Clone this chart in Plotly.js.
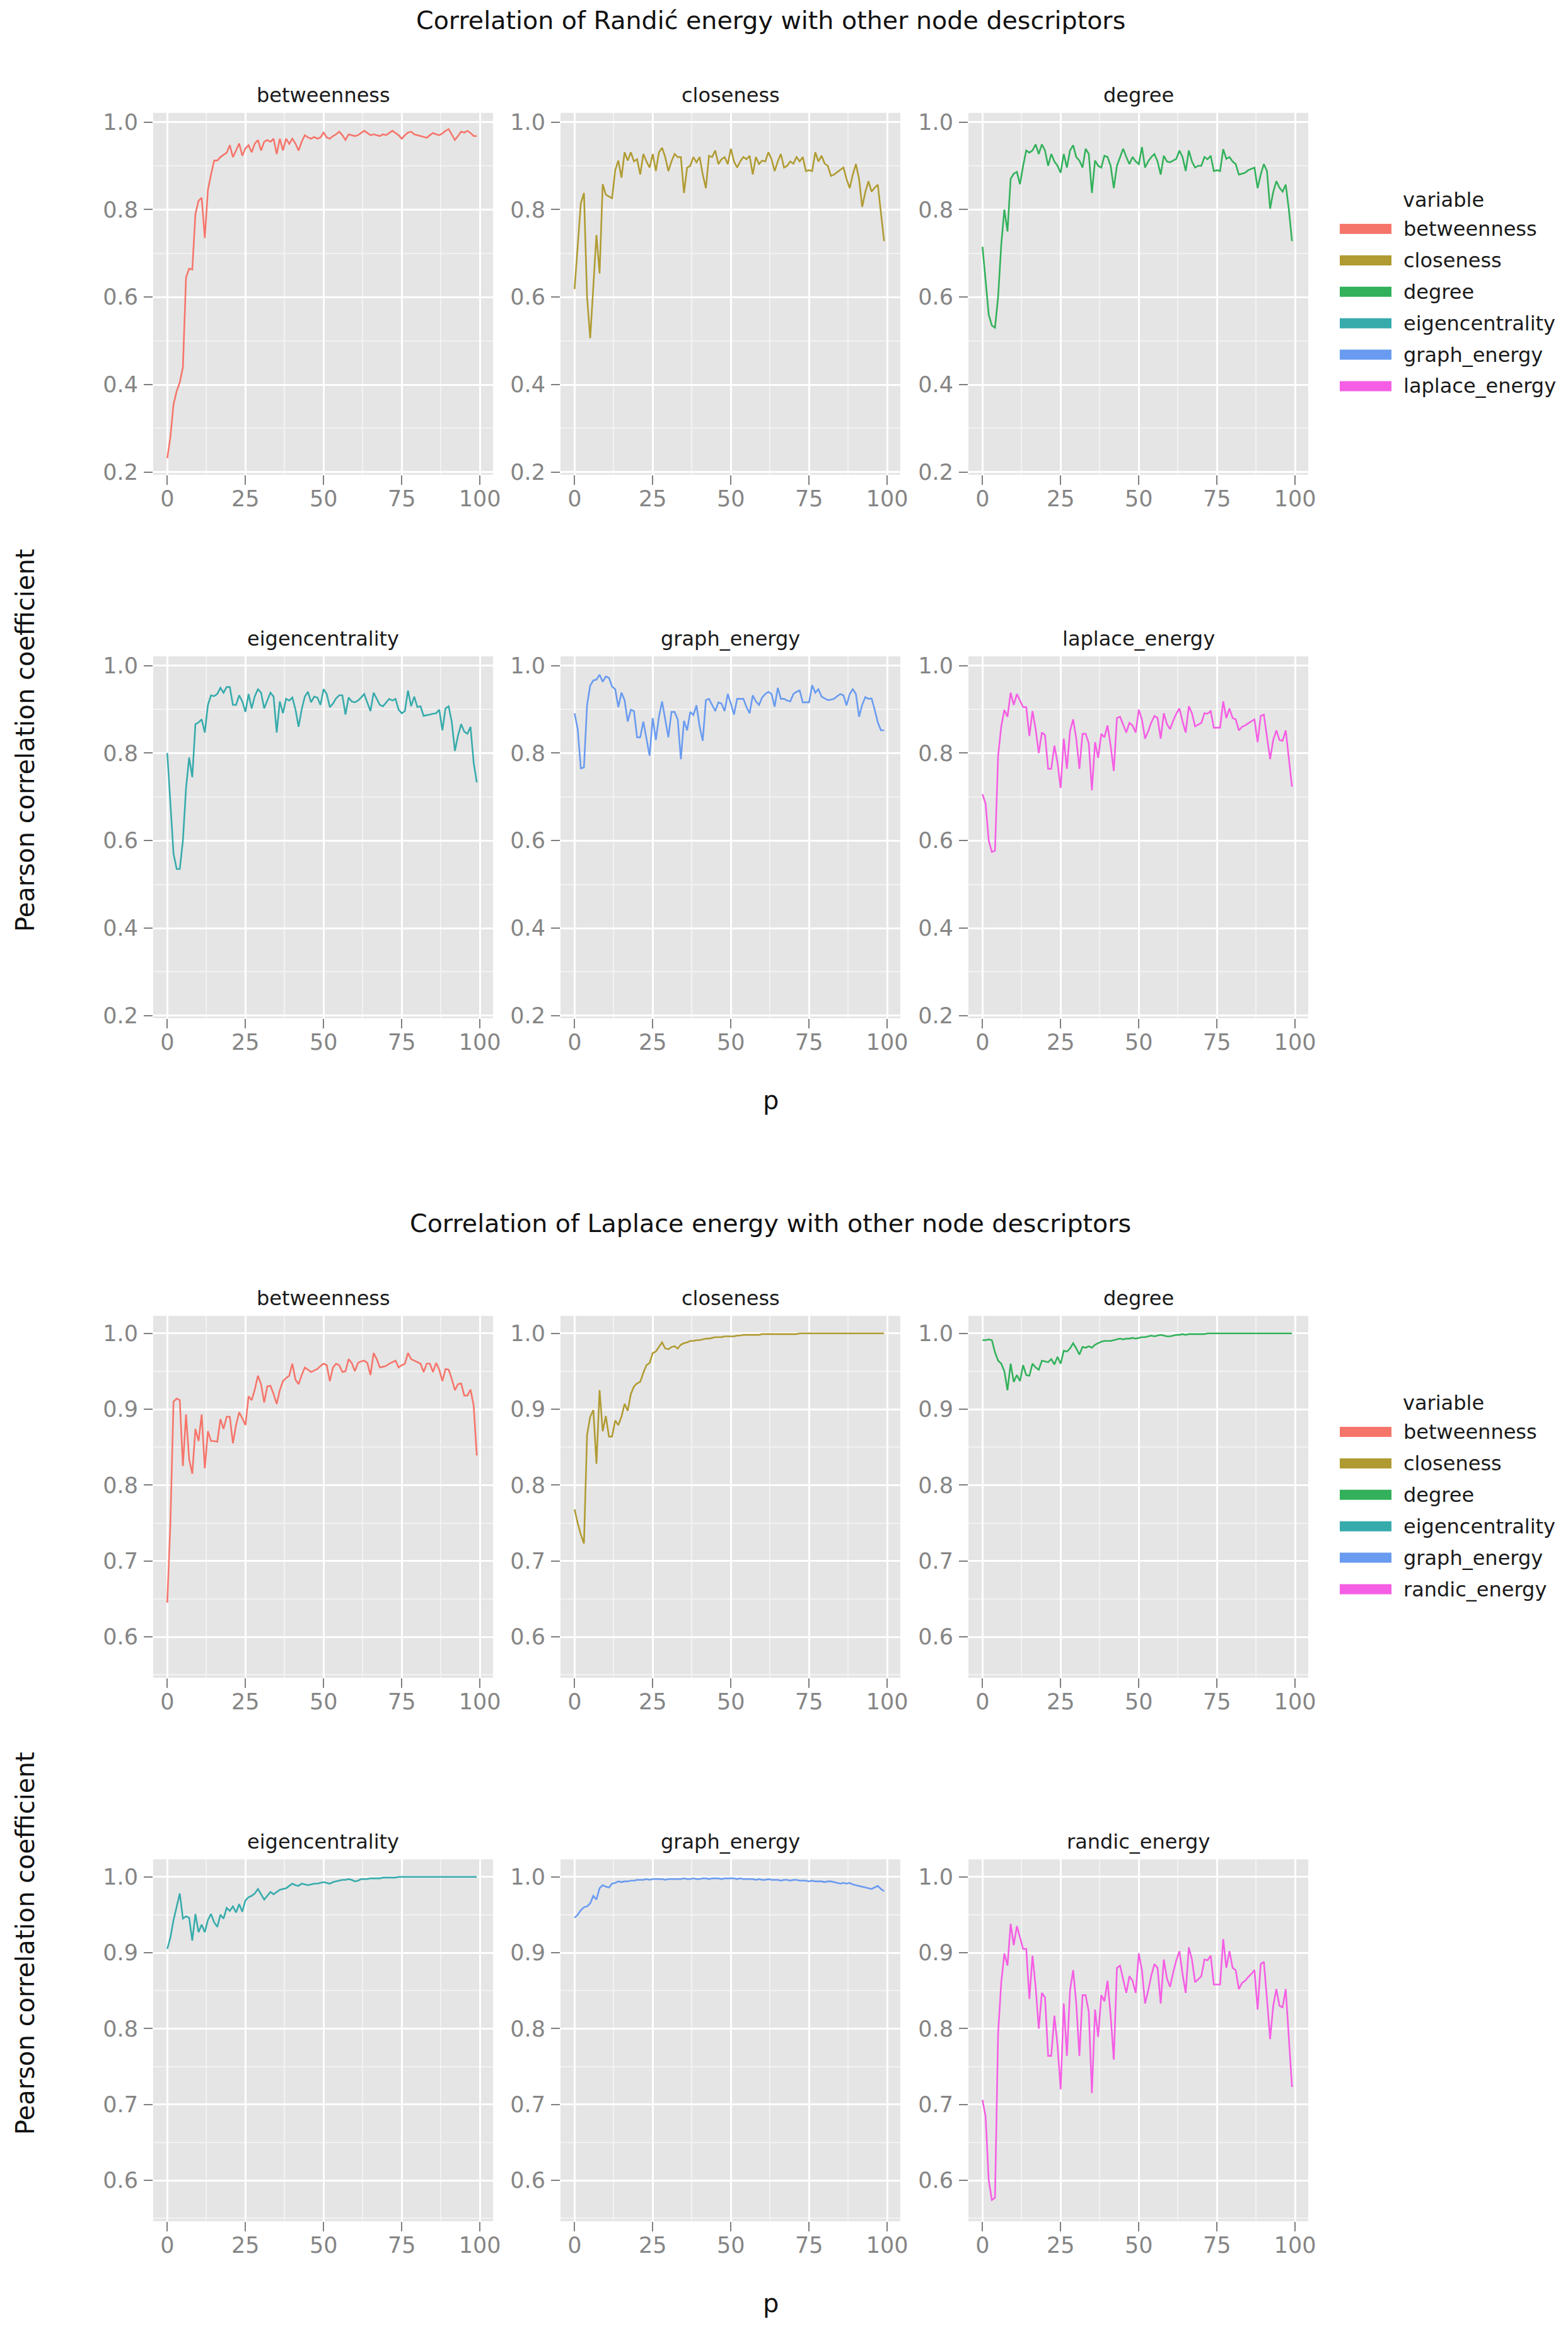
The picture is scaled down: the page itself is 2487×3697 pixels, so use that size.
<!DOCTYPE html>
<html><head><meta charset="utf-8">
<script src="https://cdn.plot.ly/plotly-3.0.1.min.js"></script>
<style>html,body{margin:0;padding:0;background:#fff}</style>
</head><body><div id="chart" style="width:2487px;height:3697px"></div>
<script>
// ---------------- DATA ----------------
const p = [0,1,2,3,4,5,6,7,8,9,10,11,12,13,14,15,16,17,18,19,20,21,22,23,24,25,26,27,28,29,
30,31,32,33,34,35,36,37,38,39,40,41,42,43,44,45,46,47,48,49,50,51,52,53,54,55,56,57,58,59,
60,61,62,63,64,65,66,67,68,69,70,71,72,73,74,75,76,77,78,79,80,81,82,83,84,85,86,87,88,89,
90,91,92,93,94,95,96,97,98,99];

const figureTitles = ["Correlation of Randić energy with other node descriptors",
                      "Correlation of Laplace energy with other node descriptors"];
const randicPanels = ["betweenness","closeness","degree","eigencentrality","graph_energy","laplace_energy"];
const laplacePanels = ["betweenness","closeness","degree","eigencentrality","graph_energy","randic_energy"];
const seriesColors = ["#F6756B","#B09B32","#32B15A","#37ABAC","#699BF0","#F55EE4"];
const yTicksTop = [0.2,0.4,0.6,0.8,1.0];
const yTicksBottom = [0.6,0.7,0.8,0.9,1.0];
const xTicks = [0,25,50,75,100];

const randic_betweenness = [0.232,0.28,0.355,0.385,0.405,0.44,0.645,0.665,0.663,0.79,
0.82,0.827,0.735,0.845,0.88,0.912,0.912,0.92,0.925,0.93,
0.947,0.92,0.935,0.951,0.923,0.94,0.947,0.931,0.951,0.959,
0.935,0.955,0.959,0.955,0.962,0.927,0.962,0.935,0.962,0.95,
0.962,0.951,0.935,0.955,0.97,0.965,0.962,0.966,0.962,0.965,
0.976,0.965,0.962,0.968,0.972,0.978,0.97,0.959,0.972,0.97,
0.968,0.97,0.975,0.98,0.975,0.97,0.972,0.97,0.968,0.972,
0.97,0.975,0.98,0.975,0.97,0.962,0.97,0.976,0.978,0.972,
0.97,0.968,0.966,0.964,0.97,0.975,0.972,0.97,0.974,0.98,
0.984,0.972,0.959,0.968,0.978,0.976,0.98,0.975,0.968,0.968];

const randic_closeness = [0.618,0.72,0.814,0.838,0.60,0.506,0.63,0.742,0.654,0.858,
0.834,0.83,0.826,0.89,0.912,0.873,0.931,0.912,0.931,0.91,
0.915,0.88,0.927,0.91,0.896,0.927,0.888,0.931,0.941,0.92,
0.888,0.91,0.927,0.92,0.92,0.838,0.896,0.90,0.92,0.908,
0.92,0.88,0.849,0.923,0.92,0.935,0.904,0.915,0.92,0.904,
0.939,0.91,0.896,0.91,0.92,0.915,0.923,0.88,0.92,0.904,
0.912,0.91,0.931,0.915,0.888,0.91,0.927,0.896,0.90,0.91,
0.905,0.92,0.91,0.92,0.888,0.89,0.888,0.931,0.91,0.923,
0.905,0.90,0.877,0.88,0.885,0.89,0.896,0.87,0.849,0.88,
0.904,0.87,0.806,0.84,0.865,0.841,0.85,0.857,0.79,0.728];

const randic_degree = [0.715,0.64,0.56,0.535,0.53,0.60,0.72,0.80,0.75,0.87,
0.882,0.886,0.858,0.90,0.935,0.93,0.935,0.949,0.927,0.949,
0.935,0.90,0.927,0.91,0.90,0.884,0.927,0.896,0.935,0.947,
0.92,0.912,0.896,0.939,0.927,0.838,0.912,0.90,0.896,0.923,
0.92,0.90,0.849,0.90,0.92,0.939,0.92,0.904,0.92,0.91,
0.904,0.943,0.896,0.91,0.92,0.927,0.91,0.88,0.923,0.91,
0.908,0.912,0.916,0.935,0.92,0.888,0.935,0.91,0.896,0.90,
0.90,0.92,0.915,0.923,0.888,0.89,0.888,0.938,0.916,0.92,
0.91,0.904,0.88,0.882,0.884,0.89,0.893,0.896,0.849,0.88,
0.904,0.888,0.802,0.84,0.865,0.85,0.841,0.857,0.80,0.728];

const randic_eigencentrality = [0.80,0.68,0.57,0.535,0.535,0.60,0.72,0.79,0.745,0.866,
0.87,0.877,0.847,0.91,0.932,0.93,0.935,0.949,0.938,0.951,
0.951,0.91,0.91,0.932,0.918,0.894,0.935,0.902,0.93,0.946,
0.938,0.902,0.92,0.938,0.929,0.847,0.918,0.891,0.924,0.92,
0.927,0.90,0.86,0.90,0.929,0.94,0.916,0.929,0.927,0.91,
0.946,0.935,0.905,0.913,0.925,0.932,0.932,0.888,0.927,0.918,
0.916,0.92,0.927,0.935,0.915,0.896,0.938,0.925,0.91,0.907,
0.916,0.924,0.92,0.924,0.899,0.891,0.896,0.943,0.907,0.929,
0.905,0.907,0.885,0.886,0.888,0.89,0.891,0.899,0.852,0.902,
0.907,0.871,0.805,0.84,0.866,0.849,0.844,0.86,0.778,0.733];

const randic_graph_energy = [0.891,0.855,0.765,0.767,0.91,0.954,0.966,0.968,0.979,0.963,
0.975,0.972,0.952,0.946,0.905,0.938,0.921,0.872,0.899,0.896,
0.836,0.836,0.872,0.833,0.794,0.88,0.83,0.883,0.918,0.877,
0.836,0.894,0.894,0.877,0.786,0.874,0.852,0.894,0.887,0.909,
0.861,0.828,0.921,0.924,0.91,0.896,0.916,0.913,0.896,0.935,
0.913,0.888,0.924,0.924,0.924,0.905,0.891,0.932,0.918,0.91,
0.927,0.935,0.94,0.935,0.906,0.949,0.924,0.924,0.92,0.918,
0.935,0.94,0.943,0.916,0.916,0.916,0.955,0.938,0.946,0.929,
0.925,0.921,0.922,0.924,0.93,0.935,0.932,0.909,0.935,0.946,
0.935,0.883,0.91,0.928,0.924,0.925,0.899,0.87,0.852,0.852];

const randic_laplace_energy = [0.706,0.684,0.60,0.574,0.577,0.794,0.861,0.899,0.883,0.938,
0.91,0.935,0.92,0.905,0.905,0.839,0.896,0.855,0.80,0.847,
0.841,0.764,0.764,0.817,0.778,0.72,0.833,0.764,0.85,0.877,
0.833,0.764,0.844,0.844,0.822,0.715,0.825,0.789,0.844,0.836,
0.863,0.817,0.759,0.88,0.883,0.865,0.847,0.869,0.863,0.847,
0.899,0.877,0.833,0.85,0.87,0.885,0.88,0.833,0.891,0.866,
0.855,0.874,0.89,0.902,0.872,0.847,0.907,0.891,0.861,0.865,
0.869,0.891,0.89,0.896,0.858,0.858,0.858,0.918,0.88,0.902,
0.88,0.877,0.852,0.86,0.863,0.868,0.872,0.877,0.825,0.885,
0.888,0.839,0.786,0.83,0.852,0.83,0.828,0.852,0.789,0.723];

const laplace_betweenness = [0.645,0.75,0.91,0.914,0.912,0.825,0.893,0.834,0.815,0.874,
0.858,0.893,0.822,0.871,0.858,0.858,0.857,0.887,0.874,0.89,
0.89,0.855,0.879,0.896,0.888,0.879,0.917,0.912,0.926,0.944,
0.933,0.909,0.93,0.931,0.92,0.907,0.925,0.937,0.941,0.944,
0.96,0.939,0.933,0.945,0.955,0.952,0.949,0.951,0.953,0.957,
0.96,0.958,0.937,0.955,0.96,0.958,0.949,0.95,0.966,0.961,
0.95,0.961,0.963,0.964,0.961,0.945,0.974,0.966,0.955,0.956,
0.957,0.96,0.962,0.964,0.955,0.958,0.96,0.974,0.966,0.964,
0.962,0.96,0.949,0.96,0.96,0.949,0.961,0.952,0.937,0.953,
0.952,0.94,0.925,0.933,0.934,0.918,0.918,0.926,0.905,0.839];

const laplace_closeness = [0.768,0.75,0.735,0.723,0.866,0.89,0.899,0.828,0.925,0.871,
0.891,0.864,0.864,0.885,0.879,0.89,0.907,0.898,0.92,0.93,
0.934,0.936,0.948,0.958,0.961,0.974,0.976,0.982,0.988,0.98,
0.979,0.982,0.983,0.98,0.985,0.987,0.988,0.99,0.99,0.991,
0.991,0.992,0.993,0.993,0.994,0.995,0.995,0.995,0.996,0.996,
0.996,0.996,0.997,0.997,0.998,0.998,0.998,0.998,0.998,0.998,
0.999,0.999,0.999,0.999,0.999,0.999,0.999,0.999,0.999,0.999,
0.999,0.999,1.0,1.0,1.0,1.0,1.0,1.0,1.0,1.0,
1.0,1.0,1.0,1.0,1.0,1.0,1.0,1.0,1.0,1.0,
1.0,1.0,1.0,1.0,1.0,1.0,1.0,1.0,1.0,1.0];

const laplace_degree = [0.991,0.991,0.992,0.991,0.975,0.964,0.96,0.95,0.925,0.96,
0.936,0.945,0.937,0.958,0.945,0.944,0.96,0.955,0.952,0.964,
0.963,0.962,0.966,0.959,0.969,0.96,0.977,0.976,0.98,0.987,
0.98,0.972,0.982,0.981,0.983,0.981,0.985,0.987,0.989,0.99,
0.99,0.99,0.991,0.992,0.993,0.992,0.993,0.993,0.994,0.993,
0.994,0.995,0.995,0.996,0.997,0.996,0.997,0.998,0.997,0.996,
0.996,0.997,0.998,0.998,0.999,0.998,0.999,0.999,0.999,0.999,
0.999,0.999,1.0,1.0,1.0,1.0,1.0,1.0,1.0,1.0,
1.0,1.0,1.0,1.0,1.0,1.0,1.0,1.0,1.0,1.0,
1.0,1.0,1.0,1.0,1.0,1.0,1.0,1.0,1.0,1.0];

const laplace_eigencentrality = [0.905,0.92,0.943,0.96,0.978,0.945,0.948,0.946,0.916,0.951,
0.927,0.937,0.927,0.943,0.951,0.94,0.934,0.95,0.945,0.959,
0.955,0.961,0.953,0.964,0.954,0.969,0.973,0.975,0.978,0.984,
0.977,0.97,0.975,0.98,0.977,0.98,0.983,0.984,0.985,0.988,
0.991,0.989,0.988,0.991,0.99,0.989,0.99,0.991,0.991,0.992,
0.993,0.992,0.991,0.993,0.994,0.995,0.996,0.996,0.997,0.996,
0.994,0.995,0.997,0.997,0.997,0.998,0.998,0.998,0.998,0.999,
0.999,0.999,0.999,0.999,1.0,1.0,1.0,1.0,1.0,1.0,
1.0,1.0,1.0,1.0,1.0,1.0,1.0,1.0,1.0,1.0,
1.0,1.0,1.0,1.0,1.0,1.0,1.0,1.0,1.0,1.0];

const laplace_graph_energy = [0.946,0.95,0.956,0.96,0.961,0.965,0.975,0.97,0.985,0.989,
0.987,0.986,0.991,0.992,0.994,0.993,0.994,0.994,0.995,0.995,
0.996,0.996,0.996,0.997,0.996,0.997,0.997,0.997,0.997,0.996,
0.997,0.997,0.997,0.997,0.997,0.998,0.997,0.997,0.998,0.997,
0.997,0.998,0.998,0.997,0.998,0.998,0.998,0.997,0.998,0.998,
0.998,0.998,0.997,0.998,0.997,0.997,0.997,0.997,0.996,0.997,
0.996,0.996,0.997,0.996,0.996,0.996,0.995,0.996,0.996,0.995,
0.996,0.996,0.995,0.995,0.995,0.994,0.995,0.994,0.994,0.994,
0.993,0.994,0.994,0.993,0.992,0.991,0.992,0.991,0.992,0.99,
0.989,0.988,0.987,0.986,0.985,0.984,0.986,0.988,0.984,0.981];

// correlation is symmetric: Laplace vs Randić equals Randić vs Laplace
const laplace_randic_energy = randic_laplace_energy;

const randicSeries = [randic_betweenness, randic_closeness, randic_degree,
  randic_eigencentrality, randic_graph_energy, randic_laplace_energy];
const laplaceSeries = [laplace_betweenness, laplace_closeness, laplace_degree,
  laplace_eigencentrality, laplace_graph_energy, laplace_randic_energy];

// ---------------- LAYOUT ----------------
const W = 2487, H = 3697;
const FONT = "DejaVu Sans";
const colL = [243, 889, 1536], colW = 539;
const rowT = [179, 1041, 2087, 2949], rowH = 574;
const figOffset = [0, 1908];
const px = v => v / W;
const py = v => 1 - v / H;

const figs = [
  {title: figureTitles[0], panels: randicPanels, series: randicSeries,
   yrange: [0.194, 1.021], yticks: yTicksTop, yminor: 0.1},
  {title: figureTitles[1], panels: laplacePanels, series: laplaceSeries,
   yrange: [0.546, 1.023], yticks: yTicksBottom, yminor: 0.05}
];

const traces = [];
const layout = {
  width: W, height: H,
  margin: {l: 0, r: 0, t: 0, b: 0},
  paper_bgcolor: "#ffffff",
  plot_bgcolor: "#E5E5E5",
  showlegend: false,
  font: {family: FONT, color: "#1a1a1a"},
  annotations: [],
  shapes: []
};

figs.forEach((f, fi) => {
  const off = figOffset[fi];
  f.panels.forEach((name, k) => {
    const r = Math.floor(k / 3), c = k % 3;
    const n = fi * 6 + k + 1;
    const xa = n === 1 ? "xaxis" : "xaxis" + n;
    const ya = n === 1 ? "yaxis" : "yaxis" + n;
    const top = rowT[fi * 2 + r];
    traces.push({
      type: "scatter", mode: "lines",
      x: p, y: f.series[k], name: name,
      xaxis: "x" + (n === 1 ? "" : n), yaxis: "y" + (n === 1 ? "" : n),
      line: {color: seriesColors[k], width: 2.6},
      hoverinfo: "skip"
    });
    layout[xa] = {
      domain: [px(colL[c]), px(colL[c] + colW)],
      anchor: "y" + (n === 1 ? "" : n),
      range: [-4.5, 104.2],
      tickmode: "array", tickvals: xTicks, ticktext: xTicks.map(String),
      showgrid: true, gridcolor: "#ffffff", gridwidth: 3,
      minor: {dtick: 12.5, tick0: 0, showgrid: true, gridcolor: "#F2F2F2", gridwidth: 2, ticks: ""},
      zeroline: false, showline: false,
      ticks: "outside", ticklen: 15, tickwidth: 2, tickcolor: "#7f7f7f",
      ticklabelstandoff: -8,
      tickfont: {family: FONT, size: 35, color: "#858585"},
      fixedrange: true
    };
    layout[ya] = {
      domain: [py(top + rowH), py(top)],
      anchor: "x" + (n === 1 ? "" : n),
      range: f.yrange,
      tickmode: "array", tickvals: f.yticks, ticktext: f.yticks.map(v => v.toFixed(1)),
      showgrid: true, gridcolor: "#ffffff", gridwidth: 3,
      minor: {dtick: f.yminor, tick0: 0, showgrid: true, gridcolor: "#F2F2F2", gridwidth: 2, ticks: ""},
      zeroline: false, showline: false,
      ticks: "outside", ticklen: 14, tickwidth: 2, tickcolor: "#7f7f7f",
      ticklabelstandoff: 2,
      tickfont: {family: FONT, size: 35, color: "#858585"},
      fixedrange: true
    };
    // facet strip label
    layout.annotations.push({
      xref: "paper", yref: "paper",
      x: px(colL[c] + colW / 2), y: py(top - 28),
      xanchor: "center", yanchor: "middle", showarrow: false,
      text: name, font: {family: FONT, size: 32, color: "#1a1a1a"}
    });
  });
  // figure title
  layout.annotations.push({
    xref: "paper", yref: "paper", x: px(1222), y: py(32.5 + off),
    xanchor: "center", yanchor: "middle", showarrow: false,
    text: f.title, font: {family: FONT, size: 39.6, color: "#111111"}
  });
  // y axis title
  layout.annotations.push({
    xref: "paper", yref: "paper", x: px(40), y: py(1175 + off),
    xanchor: "center", yanchor: "middle", showarrow: false, textangle: -90,
    text: "Pearson correlation coefficient", font: {family: FONT, size: 40, color: "#111111"}
  });
  // x axis title
  layout.annotations.push({
    xref: "paper", yref: "paper", x: px(1222), y: py(1745 + off),
    xanchor: "center", yanchor: "middle", showarrow: false,
    text: "p", font: {family: FONT, size: 40, color: "#111111"}
  });
  // legend
  layout.annotations.push({
    xref: "paper", yref: "paper", x: px(2223), y: py(317 + off),
    xanchor: "left", yanchor: "middle", showarrow: false,
    text: "variable", font: {family: FONT, size: 32, color: "#1a1a1a"}
  });
  f.panels.forEach((name, k) => {
    const cy = 363 + 49.9 * k + off;
    layout.shapes.push({
      type: "rect", xref: "paper", yref: "paper",
      x0: px(2125), x1: px(2207), y0: py(cy + 8), y1: py(cy - 8),
      fillcolor: seriesColors[k], line: {width: 0}
    });
    layout.annotations.push({
      xref: "paper", yref: "paper", x: px(2224), y: py(cy),
      xanchor: "left", yanchor: "middle", showarrow: false,
      text: name, font: {family: FONT, size: 32, color: "#1a1a1a"}
    });
  });
});

Plotly.newPlot("chart", traces, layout, {staticPlot: true, displayModeBar: false});
</script>
</body></html>
